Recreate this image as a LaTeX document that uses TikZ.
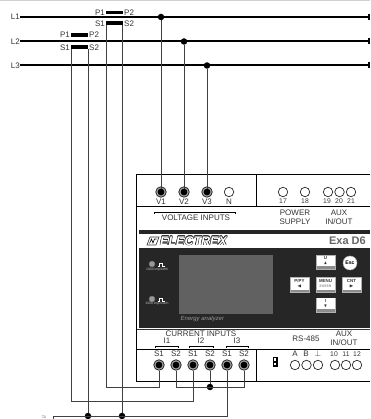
\documentclass[tikz,border=0pt]{standalone}
\usepackage{amssymb,amsthm,amsmath,amsfonts}
\usepackage{fontspec}
\setmainfont{Liberation Sans}
\tikzset{
	lbl/.style={inner sep=0pt,font=\fontsize{8}{9}\selectfont,text=black!80},
	num/.style={inner sep=0pt,font=\fontsize{6.8}{8}\selectfont,text=black!80},
	tiny/.style={inner sep=0pt,font=\fontsize{3.4}{4}\selectfont,text=black!25},
	phase/.style={line width=2pt},
	wire/.style={line width=1pt,black!75},
	frame/.style={line width=1pt},
	dot/.style={circle,fill=black,inner sep=0pt,minimum size=6.5pt},
	pad/.style={circle,draw=black!85,line width=0.7pt,fill=white,inner sep=0pt,minimum size=9.5pt},
	padfull/.style={circle,draw=black!85,line width=0.8pt,fill=black!35,inner sep=0pt,minimum size=10.5pt},
	core/.style={fill=black},
	key/.style={fill=white,inner sep=0pt,minimum width=18pt,font=\fontsize{4.4}{4.8}\selectfont\bfseries,align=center,text=black!80},
	keyback/.style={fill=black!45,draw=black!30,line width=0.5pt},
	logotxt/.style={inner sep=0pt,anchor=west,font=\fontsize{12.5}{12.5}\selectfont\bfseries\itshape}
}
\begin{document}
\begin{tikzpicture}[x=1pt,y=-1pt]
		\useasboundingbox (0,0) rectangle (370,419);
		\fill[black!18] (0,0) rectangle (370,1);
		% phases
		\node[lbl,anchor=east] (L1) at (20,17) {L1};
		\node[lbl,anchor=east] (L2) at (20,41.5) {L2};
		\node[lbl,anchor=east] (L3) at (20,65.5) {L3};
		\coordinate (E1) at (370,17);
		\coordinate (E2) at (370,41.5);
		\coordinate (E3) at (370,65.5);
		\draw[phase] (L1.east)--(E1);
		\draw[phase] (L2.east)--(E2);
		\draw[phase] (L3.east)--(E3);
		\fill (367.5,14) rectangle (370,20);
		\fill (367.5,38.5) rectangle (370,44.5);
		\fill (367.5,62.5) rectangle (370,68.5);

		% device outline
		\draw[frame] (370,175)--(136,175)--(136,381)--(370,381);
		\draw[frame] (136,207)--(370,207);
		\draw[frame] (136,349)--(370,349);
		\draw[frame] (256,175)--(256,207);
		\draw[frame] (256,349)--(256,381);

		% front panel
		\fill[black!85] (139,230) rectangle (370,233.5);
		\fill[black!85] (139,248) rectangle (370,328);
		\draw[frame,black!80] (136.5,329.5)--(370,329.5);
		\fill[black!62] (179,255) rectangle (273,314);
		\node[inner sep=0pt,anchor=west,font=\fontsize{6}{6}\selectfont\itshape,text=black!40] (title) at (180.5,319) {Energy analyzer};
		\draw[line width=0.6pt,black!80,fill=white] (147,245)--(150,237)--(159,237)--(156,245)--cycle;
		\draw[line width=0.6pt] (149.5,243.5)--(151.5,239)--(153,243)--(154.5,239)--(156.5,239);
		\foreach \dx/\dy in {-0.5/0,0.5/0,0/-0.5,0/0.5,-0.4/-0.4,0.4/0.4,-0.4/0.4,0.4/-0.4}
			\node[logotxt,text=black!85] at (160+\dx,241+\dy) {ELECTREX};
		\node[logotxt,text=white] (brand) at (160,241) {ELECTREX};
		\node[inner sep=0pt,anchor=east,font=\fontsize{11}{11}\selectfont\bfseries,text=black!60] (model) at (366,241) {Exa D6};

		% leds
		\node[circle,fill=black!40,draw=black!60,inner sep=0pt,minimum size=6pt] (LED1) at (152,264) {};
		\node[circle,fill=black!40,draw=black!60,inner sep=0pt,minimum size=6pt] (LED2) at (152,299) {};
		\draw[white,line width=0.7pt] (157.5,266)--(159.5,266)--(159.5,263)--(162.5,263)--(162.5,266)--(164.5,266);
		\draw[white,line width=0.7pt] (157.5,301)--(159.5,301)--(159.5,298)--(162.5,298)--(162.5,301)--(164.5,301);
		\node[tiny] (imp1) at (157,270) {1000 imp/kWh};
		\node[tiny] (imp2) at (157,304) {1000 imp/kvarh};

		% keys
		\fill[keyback] (316,255) rectangle (335,269);
		\node[key,minimum height=10pt] (kU) at (325.5,260.5) {U\\[-0.5pt]$\blacktriangle$};
		\node[circle,fill=white,draw=black!30,line width=0.5pt,minimum size=14pt,inner sep=0pt,font=\fontsize{5.2}{5}\selectfont\bfseries] (kEsc) at (350,263) {Esc};
		\fill[keyback] (290,277) rectangle (309,292);
		\node[key,minimum height=12pt] (kPY) at (299.5,283.5) {P/PY\\$\blacktriangleleft$};
		\fill[keyback] (316,277) rectangle (335,292);
		\node[key,minimum height=12pt] (kMenu) at (325.5,283.5) {MENU\\{\color{black!45}\fontsize{3.4}{4}\selectfont ENTER}};
		\fill[keyback] (342,277) rectangle (361,292);
		\node[key,minimum height=12pt] (kCnt) at (351.5,283.5) {CNT\\$\blacktriangleright$};
		\fill[keyback] (316,298) rectangle (335,312);
		\node[key,minimum height=10.5pt] (kI) at (325.5,303.5) {I\\$\blacktriangledown$};

		% upper terminals
		\node[padfull] (V1) at (161,192) {};
		\node[padfull] (V2) at (184,192) {};
		\node[padfull] (V3) at (207,192) {};
		\node[pad] (VN) at (229,192) {};
		\node[pad] (T17) at (283,192) {};
		\node[pad] (T18) at (305,192) {};
		\node[pad] (T19) at (328,192) {};
		\node[pad] (T20) at (339.5,192) {};
		\node[pad] (T21) at (351,192) {};
		\node[lbl] (tV1) at (161,201.5) {V1};
		\node[lbl] (tV2) at (184,201.5) {V2};
		\node[lbl] (tV3) at (207,201.5) {V3};
		\node[lbl] (tVN) at (229,201.5) {N};
		\node[num] (t17) at (283,201.5) {17};
		\node[num] (t18) at (305,201.5) {18};
		\node[num] (t19) at (327,201.5) {19};
		\node[num] (t20) at (339,201.5) {20};
		\node[num] (t21) at (351,201.5) {21};
		\node[lbl] (volt) at (196,217.5) {VOLTAGE INPUTS};
		\draw[line width=0.5pt] (154,213.5)--(154,212)--(235,212)--(235,213.5);
		\node[lbl] (pow) at (295,213) {POWER};
		\node[lbl] (sup) at (295,222) {SUPPLY};
		\node[lbl] (aux) at (339,213) {AUX};
		\node[lbl] (io) at (339,222) {IN/OUT};

		% lower terminals
		\node[lbl] (cur) at (201,334) {CURRENT INPUTS};
		\node[lbl] (I1) at (167,341) {I1};
		\node[lbl] (I2) at (201,341) {I2};
		\node[lbl] (I3) at (237,341) {I3};
		\draw[line width=0.5pt] (155,347.5)--(155,346)--(178,346)--(178,347.5);
		\draw[line width=0.5pt] (189,347.5)--(189,346)--(213,346)--(213,347.5);
		\draw[line width=0.5pt] (226,347.5)--(226,346)--(248,346)--(248,347.5);
		\node[padfull] (A1) at (159,365) {};
		\node[padfull] (A2) at (176,365) {};
		\node[padfull] (B1) at (193,365) {};
		\node[padfull] (B2) at (210,365) {};
		\node[padfull] (C1) at (227,365) {};
		\node[padfull] (C2) at (244,365) {};
		\node[lbl] (tA1) at (159,354) {S1};
		\node[lbl] (tA2) at (176,354) {S2};
		\node[lbl] (tB1) at (193,354) {S1};
		\node[lbl] (tB2) at (210,354) {S2};
		\node[lbl] (tC1) at (227,354) {S1};
		\node[lbl] (tC2) at (244,354) {S2};
		\node[lbl] (rs) at (306,339) {RS-485};
		\node[lbl] (aux2) at (344,334) {AUX};
		\node[lbl] (io2) at (344,343) {IN/OUT};
		\node[lbl] (tA) at (295,354) {A};
		\node[lbl] (tB) at (306,354) {B};
		\node[lbl] (tG) at (318,354) {$\perp$};
		\node[num] (t10) at (334,354) {10};
		\node[num] (t11) at (346,354) {11};
		\node[num] (t12) at (357,354) {12};
		\node[pad] (RA) at (295,365) {};
		\node[pad] (RB) at (306.5,365) {};
		\node[pad] (RG) at (318,365) {};
		\node[pad] (R10) at (335,365) {};
		\node[pad] (R11) at (346,365) {};
		\node[pad] (R12) at (357,365) {};
		\fill (272.5,356.5) rectangle (277.5,366.5);
		\fill[white] (274,358) rectangle (276,360.5);
		\fill[white] (274,362.5) rectangle (276,365);

		% current transformers
		\node[core,minimum width=17pt,minimum height=3.5pt,inner sep=0pt] (PA) at (114.5,12.5) {};
		\node[core,minimum width=17pt,minimum height=4.5pt,inner sep=0pt] (SA) at (114.5,23) {};
		\node[core,minimum width=17pt,minimum height=3.5pt,inner sep=0pt] (PB) at (79.5,35) {};
		\node[core,minimum width=17pt,minimum height=4.5pt,inner sep=0pt] (SB) at (79.5,47) {};
		\node[lbl,anchor=east] (PA1) at (105,12.5) {P1};
		\node[lbl,anchor=west] (PA2) at (124,12.5) {P2};
		\node[lbl,anchor=east] (SA1) at (105,23.5) {S1};
		\node[lbl,anchor=west] (SA2) at (124,23.5) {S2};
		\node[lbl,anchor=east] (PB1) at (70,35) {P1};
		\node[lbl,anchor=west] (PB2) at (89,35) {P2};
		\node[lbl,anchor=east] (SB1) at (70,47.5) {S1};
		\node[lbl,anchor=west] (SB2) at (89,47.5) {S2};

		% voltage wiring
		\node[dot] (D1) at (161,17) {};
		\node[dot] (D2) at (184,41.5) {};
		\node[dot] (D3) at (207,65.5) {};
		\draw[wire] (D1)--(V1.center);
		\draw[wire] (D2)--(V2.center);
		\draw[wire] (D3)--(V3.center);

		% current wiring
		\coordinate (SAl) at (106,25);
		\coordinate (SAr) at (122,25);
		\coordinate (SBl) at (71.5,49);
		\coordinate (SBr) at (88,49);
		\coordinate (G) at (53,416);
		\coordinate (GS) at (53,419);
		\node[dot] (DB) at (88,416) {};
		\node[dot] (DA) at (122,416) {};
		\node[dot] (DS) at (210,387) {};
		\draw[wire] (SAl)--(106,387)-|(A1.south);
		\draw[wire] (SBl)--(71.5,401)-|(B1.south);
		\draw[wire] (SAr)--(DA);
		\draw[wire] (SBr)--(DB);
		\draw[wire] (GS)--(G)-|(C1.south);
		\draw[wire] (A2.south)|-(C2.south |- DS)--(C2.south);
		\draw[wire] (B2.south)--(DS);
		\foreach \n in {V1,V2,V3,A1,A2,B1,B2,C1,C2}
			\fill (\n) circle (3.4);
		\node[inner sep=0pt,font=\fontsize{4}{4}\selectfont,text=black!60] (gnd) at (44,417.5) {$\approx$};
\end{tikzpicture}
\end{document}
